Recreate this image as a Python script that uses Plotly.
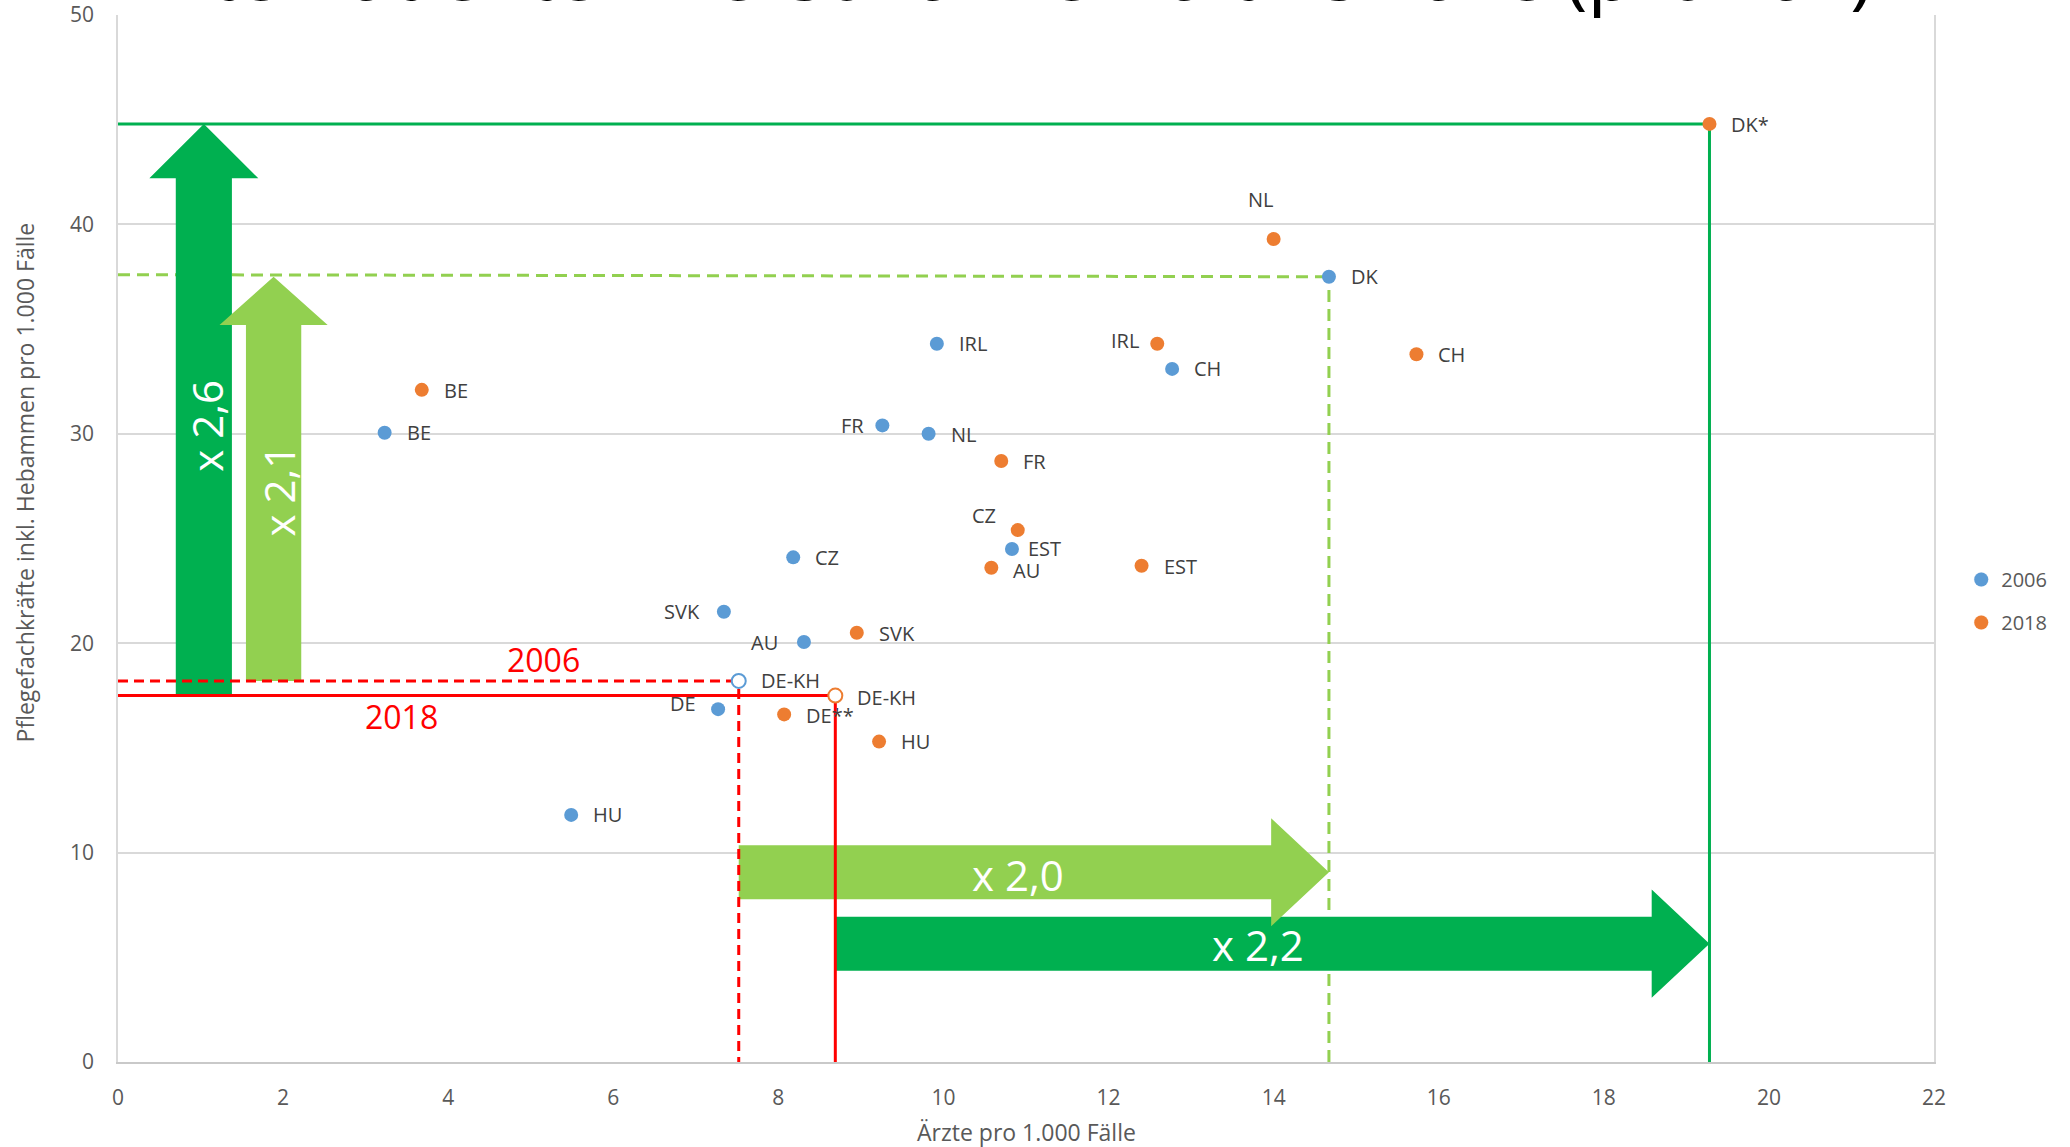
import plotly.graph_objects as go

# ---------------- data ----------------
countries_2006 = ["BE", "HU", "SVK", "DE", "DE-KH", "CZ", "AU", "FR", "NL", "IRL", "EST", "CH", "DK"]
aerzte_2006 = [3.23, 5.49, 7.34, 7.27, 7.52, 8.18, 8.31, 9.26, 9.82, 9.92, 10.83, 12.77, 14.67]
pflege_2006 = [30.05, 11.8, 21.5, 16.85, 18.2, 24.1, 20.06, 30.4, 30.0, 34.3, 24.5, 33.1, 37.5]

countries_2018 = ["BE", "DE**", "DE-KH", "SVK", "HU", "AU", "FR", "CZ", "EST", "IRL", "NL", "CH", "DK*"]
aerzte_2018 = [3.68, 8.07, 8.69, 8.95, 9.22, 10.58, 10.70, 10.90, 12.40, 12.59, 14.00, 15.73, 19.28]
pflege_2018 = [32.1, 16.6, 17.5, 20.5, 15.3, 23.6, 28.7, 25.4, 23.7, 34.3, 39.3, 33.8, 44.8]

series_names = ["2006", "2018"]
x_ticks = [0, 2, 4, 6, 8, 10, 12, 14, 16, 18, 20, 22]
y_ticks = [0, 10, 20, 30, 40, 50]
factor_labels = ["x 2,6", "x 2,1", "x 2,0", "x 2,2"]

# ---------------- styles ----------------
BLUE = "#5B9BD5"
ORANGE = "#ED7D31"
DARK_GREEN = "#00B050"
LIGHT_GREEN = "#92D050"
RED = "#FF0000"
FONT = "Open Sans"
LABEL_COLOR = "#404040"
TICK_COLOR = "#595959"

# label placement (side, xshift px, yshift px) - style only
pos_2006 = [("l", 20, 0), ("l", 20, 0), ("r", -22, 0), ("r", -20, 6), ("l", 20, 0), ("l", 20, 0),
            ("r", -24, -1), ("r", -16, 0), ("l", 20, -1), ("l", 20, 0), ("l", 14, 0), ("l", 20, 0), ("l", 20, 0)]
pos_2018 = [("l", 20, -1), ("l", 20, -1), ("l", 20, -2), ("l", 20, -1), ("l", 20, 0), ("l", 20, -3),
            ("l", 20, 0), ("r", -20, 15), ("l", 20, -1), ("r", -16, 3), ("c", -13, 40), ("l", 20, 0), ("l", 20, -1)]

i_dekh_06 = countries_2006.index("DE-KH")
i_dekh_18 = countries_2018.index("DE-KH")
i_dk_06 = countries_2006.index("DK")
i_dk_18 = countries_2018.index("DK*")

fig = go.Figure()


def marker_style(countries, color, hollow_idx):
    fill = [color] * len(countries)
    fill[hollow_idx] = "white"
    lw = [0] * len(countries)
    lw[hollow_idx] = 2
    return dict(size=14, color=fill, line=dict(color=color, width=lw))


fig.add_trace(go.Scatter(x=aerzte_2006, y=pflege_2006, mode="markers", name=series_names[0],
                         marker=marker_style(countries_2006, BLUE, i_dekh_06),
                         text=countries_2006, legendgroup="a", cliponaxis=False))
fig.add_trace(go.Scatter(x=aerzte_2018, y=pflege_2018, mode="markers", name=series_names[1],
                         marker=marker_style(countries_2018, ORANGE, i_dekh_18),
                         text=countries_2018, legendgroup="b", cliponaxis=False))

annotations = []
for xs, ys, labels, pos in [(aerzte_2006, pflege_2006, countries_2006, pos_2006),
                            (aerzte_2018, pflege_2018, countries_2018, pos_2018)]:
    for xv, yv, lab, (side, dx, dy) in zip(xs, ys, labels, pos):
        anchor = {"l": "left", "r": "right", "c": "center"}[side]
        annotations.append(dict(x=xv, y=yv, xref="x", yref="y", text=lab, showarrow=False,
                                xanchor=anchor, yanchor="middle", xshift=dx, yshift=dy,
                                font=dict(family=FONT, size=20, color=LABEL_COLOR)))

# reference points from data
x06, y06 = aerzte_2006[i_dekh_06], pflege_2006[i_dekh_06]
x18, y18 = aerzte_2018[i_dekh_18], pflege_2018[i_dekh_18]
xdk06, ydk06 = aerzte_2006[i_dk_06], pflege_2006[i_dk_06]
xdk18, ydk18 = aerzte_2018[i_dk_18], pflege_2018[i_dk_18]

shapes = []


def line(x0, y0, x1, y1, color, dash="solid", width=3):
    shapes.append(dict(type="line", xref="x", yref="y", x0=x0, y0=y0, x1=x1, y1=y1,
                       line=dict(color=color, width=width, dash=dash), layer="between"))


def up_arrow(xc, sw, hw, y0, yh, yt, color):
    p = (f"M {xc - sw / 2},{y0} L {xc - sw / 2},{yh} L {xc - hw / 2},{yh} L {xc},{yt} "
         f"L {xc + hw / 2},{yh} L {xc + sw / 2},{yh} L {xc + sw / 2},{y0} Z")
    shapes.append(dict(type="path", xref="x", yref="y", path=p, fillcolor=color,
                       line=dict(width=0), layer="between"))


def right_arrow(yc, sh, hh, x0, xh, xt, color):
    p = (f"M {x0},{yc - sh / 2} L {xh},{yc - sh / 2} L {xh},{yc - hh / 2} L {xt},{yc} "
         f"L {xh},{yc + hh / 2} L {xh},{yc + sh / 2} L {x0},{yc + sh / 2} Z")
    shapes.append(dict(type="path", xref="x", yref="y", path=p, fillcolor=color,
                       line=dict(width=0), layer="between"))


# green reference lines
line(0, ydk18, xdk18, ydk18, DARK_GREEN)
line(xdk18, 0, xdk18, ydk18, DARK_GREEN)
line(0, ydk06 + 0.1, xdk06, ydk06, LIGHT_GREEN, dash="12px,7px")
line(xdk06, 0, xdk06, ydk06, LIGHT_GREEN, dash="12px,7px")

# arrows
up_arrow(1.04, 0.68, 1.32, y18, 42.2, ydk18, DARK_GREEN)
right_arrow(5.65, 2.58, 5.17, x18, 18.58, xdk18, DARK_GREEN)
up_arrow(1.885, 0.67, 1.31, y06, 35.2, ydk06, LIGHT_GREEN)
right_arrow(9.06, 2.58, 5.16, x06, 13.97, xdk06, LIGHT_GREEN)

# red reference lines
line(0, y06, x06, y06, RED, dash="10px,6px")
line(x06, -1.0, x06, y06, RED, dash="10px,6px")
line(0, y18, x18, y18, RED)
line(x18, 0, x18, y18, RED)

# arrow texts
for txt, xv, yv, ang in [(factor_labels[0], 1.07, 30.4, -90), (factor_labels[1], 1.94, 27.3, -90),
                         (factor_labels[2], 10.9, 8.97, 0), (factor_labels[3], 13.81, 5.6, 0)]:
    annotations.append(dict(x=xv, y=yv, xref="x", yref="y", text=txt, showarrow=False,
                            textangle=ang, font=dict(family=FONT, size=42, color="white")))

# year texts
annotations.append(dict(x=5.15, y=19.2, xref="x", yref="y", text=series_names[0], showarrow=False,
                        font=dict(family=FONT, size=32, color=RED)))
annotations.append(dict(x=3.44, y=16.5, xref="x", yref="y", text=series_names[1], showarrow=False,
                        font=dict(family=FONT, size=32, color=RED)))

# axis titles
annotations.append(dict(x=-0.0515, y=0.554, xref="paper", yref="paper", xanchor="center", yanchor="middle",
                        text="Pflegefachkräfte inkl. Hebammen pro 1.000 Fälle", showarrow=False,
                        textangle=-90, font=dict(family=FONT, size=23, color=TICK_COLOR)))
annotations.append(dict(x=0.5, y=-0.0665, xref="paper", yref="paper", xanchor="center", yanchor="middle",
                        text="Ärzte pro 1.000 Fälle",
                        showarrow=False, font=dict(family=FONT, size=23, color=TICK_COLOR)))

# cut-off slide title
annotations.append(dict(x=0.9675, y=0.9915, xref="paper", yref="paper", xanchor="right", yanchor="bottom",
                        text="Ärzte-Patienten-Personal-Verhältnis-Fälle (pro Fall)", showarrow=False,
                        font=dict(family=FONT, size=76, color="black")))

fig.update_layout(
    width=2070, height=1147,
    margin=dict(l=118, r=136, t=15, b=85, autoexpand=False),
    paper_bgcolor="white", plot_bgcolor="white",
    shapes=shapes, annotations=annotations,
    showlegend=True,
    legend=dict(x=1.015, y=0.4795, xanchor="left", yanchor="top", tracegroupgap=14,
                font=dict(family=FONT, size=20, color=TICK_COLOR), itemwidth=30,
                bgcolor="rgba(0,0,0,0)"),
    font=dict(family=FONT),
)
fig.update_xaxes(range=[0, 22], tickvals=x_ticks, showgrid=False, zeroline=False,
                 showline=True, linecolor="#C9C9C9", linewidth=2,
                 tickfont=dict(family=FONT, size=21, color=TICK_COLOR), ticklabelstandoff=16)
fig.update_yaxes(range=[0, 50], tickvals=y_ticks, showgrid=True, gridcolor="#D9D9D9", gridwidth=1.5,
                 zeroline=False, showline=True, linecolor="#D9D9D9", linewidth=1.5, mirror=True,
                 tickfont=dict(family=FONT, size=21, color=TICK_COLOR), ticklabelstandoff=18)

fig.write_html("out.html")
